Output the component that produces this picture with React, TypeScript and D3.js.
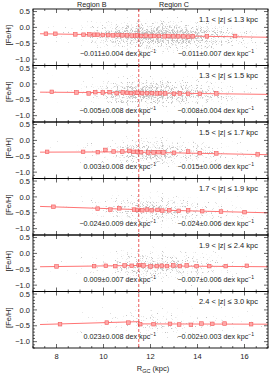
import * as d3 from 'd3'

const rangeLabels = ['1.1 < |z| ≤ 1.3 kpc', '1.3 < |z| ≤ 1.5 kpc', '1.5 < |z| ≤ 1.7 kpc', '1.7 < |z| ≤ 1.9 kpc', '1.9 < |z| ≤ 2.4 kpc', '2.4 < |z| ≤ 3.0 kpc']
const slopeB = ['−0.011±0.004', '−0.005±0.008', '0.003±0.008', '−0.024±0.009', '0.009±0.007', '0.023±0.008']
const slopeC = ['−0.011±0.007', '−0.008±0.004', '−0.015±0.006', '−0.024±0.006', '−0.007±0.006', '−0.002±0.003']

// fit lines: [feh at R=7.3, feh at 11.5] for region B, [feh at 11.5, feh at 17] for region C
const fitB = [[-0.20, -0.25], [-0.26, -0.28], [-0.37, -0.36], [-0.30, -0.40], [-0.42, -0.38], [-0.46, -0.37]]
const fitC = [[-0.25, -0.31], [-0.28, -0.33], [-0.37, -0.45], [-0.40, -0.50], [-0.39, -0.42], [-0.44, -0.45]]

const binR = [
  [7.55, 7.95, 8.8, 9.15, 9.4, 9.6, 9.76, 9.97, 10.2, 10.4, 10.6, 10.8, 11.0, 11.2, 11.35, 11.45, 11.6, 11.8, 12.0, 12.16, 12.36, 12.6, 12.76, 12.97, 13.18, 13.4, 13.6, 13.8, 14.4, 15.6],
  [7.8, 8.85, 9.37, 9.65, 9.97, 10.26, 10.56, 10.82, 11.0, 11.17, 11.37, 11.45, 11.64, 11.85, 12.06, 12.27, 12.41, 12.62, 13.0, 13.25, 13.6, 14.1, 14.8],
  [7.6, 9.13, 9.76, 10.08, 10.43, 10.8, 11.1, 11.27, 11.43, 11.6, 11.9, 12.13, 12.34, 12.55, 13.0, 13.6, 14.1, 14.8, 16.56],
  [7.87, 9.75, 10.29, 10.67, 11.3, 11.45, 11.65, 11.85, 12.05, 12.3, 12.5, 12.8, 13.2, 13.6, 14.2, 15.0, 16.0],
  [8.0, 9.6, 10.1, 10.5, 10.9, 11.2, 11.5, 11.7, 12.0, 12.27, 12.48, 12.7, 12.97, 13.25, 13.54, 13.96, 14.5, 15.2, 16.1],
  [8.15, 10.14, 11.06, 11.56, 12.13, 12.83, 13.22, 13.72, 14.17, 14.63, 15.15, 16.28]
]
const binFeH = [
  [-0.20, -0.20, -0.22, -0.23, -0.22, -0.23, -0.23, -0.24, -0.24, -0.25, -0.24, -0.25, -0.25, -0.26, -0.26, -0.25, -0.27, -0.26, -0.27, -0.27, -0.27, -0.28, -0.27, -0.28, -0.28, -0.28, -0.29, -0.28, -0.28, -0.27],
  [-0.25, -0.27, -0.30, -0.26, -0.27, -0.26, -0.29, -0.27, -0.28, -0.29, -0.28, -0.28, -0.29, -0.29, -0.29, -0.30, -0.29, -0.30, -0.31, -0.30, -0.31, -0.31, -0.30],
  [-0.36, -0.36, -0.37, -0.30, -0.35, -0.35, -0.33, -0.36, -0.36, -0.37, -0.38, -0.38, -0.37, -0.38, -0.39, -0.35, -0.40, -0.41, -0.44],
  [-0.31, -0.37, -0.40, -0.36, -0.40, -0.41, -0.42, -0.40, -0.42, -0.41, -0.43, -0.42, -0.44, -0.42, -0.45, -0.46, -0.48],
  [-0.41, -0.40, -0.39, -0.40, -0.38, -0.39, -0.37, -0.38, -0.41, -0.40, -0.39, -0.40, -0.38, -0.40, -0.38, -0.40, -0.40, -0.40, -0.39],
  [-0.45, -0.40, -0.40, -0.45, -0.45, -0.44, -0.46, -0.47, -0.43, -0.44, -0.43, -0.45]
]
const binErr = [0.02, 0.025, 0.03, 0.035, 0.03, 0.04]

// star density (relative) in 0.5 kpc bins from 7 to 17 kpc, and spread in dex
const densR = [7, 7.5, 8, 8.5, 9, 9.5, 10, 10.5, 11, 11.5, 12, 12.5, 13, 13.5, 14, 14.5, 15, 15.5, 16, 16.5]
const density = [
  [0.15, 0.3, 0.35, 0.4, 0.5, 0.65, 0.8, 0.9, 0.95, 1, 1, 1, 0.95, 0.9, 0.85, 0.8, 0.7, 0.6, 0.5, 0.4],
  [0.15, 0.3, 0.35, 0.4, 0.5, 0.6, 0.75, 0.85, 0.9, 0.95, 0.95, 0.9, 0.85, 0.8, 0.75, 0.7, 0.6, 0.5, 0.4, 0.3],
  [0.1, 0.25, 0.3, 0.35, 0.4, 0.5, 0.6, 0.7, 0.8, 0.85, 0.85, 0.8, 0.75, 0.7, 0.65, 0.6, 0.5, 0.45, 0.4, 0.3],
  [0.1, 0.25, 0.3, 0.35, 0.4, 0.45, 0.55, 0.65, 0.75, 0.8, 0.8, 0.75, 0.7, 0.65, 0.6, 0.55, 0.5, 0.45, 0.35, 0.3],
  [0.1, 0.25, 0.3, 0.35, 0.4, 0.45, 0.55, 0.65, 0.75, 0.8, 0.8, 0.75, 0.7, 0.65, 0.6, 0.55, 0.5, 0.45, 0.35, 0.3],
  [0.05, 0.15, 0.2, 0.25, 0.3, 0.35, 0.45, 0.5, 0.55, 0.6, 0.6, 0.55, 0.5, 0.5, 0.45, 0.4, 0.4, 0.35, 0.3, 0.25]
]
const spread = [0.36, 0.36, 0.36, 0.38, 0.38, 0.4]

const xTicks = [8, 10, 12, 14, 16]
const yTicks = [0.5, 0.0, -0.5, -1.0]
const splitR = 11.5

const W = 277
const H = 378
const left = 33
const right = 268
const top = 9
const panelH = 56.5
const font = '"Liberation Sans", Arial, sans-serif'
const red = '#ff7474'

const fmtY = (v: number) => (v < 0 ? '−' : '') + Math.abs(v).toFixed(1)

export default function App() {
  const x = d3.scaleLinear().domain([7, 17]).range([left, right])
  const xMinor = d3.range(7, 17.01, 0.5)
  const yMinor = d3.range(-1.2, 0.55, 0.1)
  const bottom = top + panelH * 6

  return (
    <svg width={W} height={H} style={{ position: 'absolute', left: 0, top: 0 }} fontFamily={font}>
      <defs>
        <linearGradient id="band" x1="0" x2="0" y1="0" y2="1">
          <stop offset="0" stopColor="#000" stopOpacity={0} />
          <stop offset="0.2" stopColor="#000" stopOpacity={0.55} />
          <stop offset="0.45" stopColor="#000" stopOpacity={1} />
          <stop offset="0.55" stopColor="#000" stopOpacity={1} />
          <stop offset="0.8" stopColor="#000" stopOpacity={0.55} />
          <stop offset="1" stopColor="#000" stopOpacity={0} />
        </linearGradient>
        {/* speckle texture: turbulence noise thresholded against the density field */}
        <filter id="specks" filterUnits="userSpaceOnUse" x={0} y={0} width={W} height={H} colorInterpolationFilters="sRGB">
          <feTurbulence type="turbulence" baseFrequency="0.8" numOctaves={2} seed={7} result="noise" />
          <feColorMatrix in="noise" type="matrix" values="0 0 0 0 0  0 0 0 0 0  0 0 0 0 0  1 0 0 0 0" result="na" />
          <feComposite in="na" in2="SourceGraphic" operator="arithmetic" k1={0} k2={1} k3={0.7} k4={0} result="sum" />
          <feColorMatrix in="sum" type="matrix" values="0 0 0 0 0.66  0 0 0 0 0.66  0 0 0 0 0.66  0 0 0 3.5 -2.8" />
        </filter>
      </defs>
      {rangeLabels.map((lab, i) => {
        const py = top + panelH * i
        const y = d3.scaleLinear().domain([-1.2, 0.58]).range([py + panelH, py])
        const line = d3.line<number[]>().x(d => x(d[0])).y(d => y(d[1]))
        const bLine = [[7.3, fitB[i][0]], [splitR, fitB[i][1]]]
        const cLine = [[splitR, fitC[i][0]], [17, fitC[i][1]]]
        const center = (r: number) => (r < splitR
          ? fitB[i][0] + (fitB[i][1] - fitB[i][0]) * (r - 7.3) / (splitR - 7.3)
          : fitC[i][0] + (fitC[i][1] - fitC[i][0]) * (r - splitR) / (17 - splitR))
        return (
          <g key={i}>
            <clipPath id={`clip${i}`}>
              <rect x={left} y={py} width={right - left} height={panelH} />
            </clipPath>
            <g clipPath={`url(#clip${i})`}>
              <g filter="url(#specks)">
                {densR.map((r, j) => {
                  const c = center(r + 0.25)
                  return (
                    <rect key={j} x={x(r)} width={x(r + 0.5) - x(r) + 0.5}
                      y={y(c + spread[i] * 2)} height={y(c - spread[i] * 2) - y(c + spread[i] * 2)}
                      fill="url(#band)" fillOpacity={density[i][j]} />
                  )
                })}
              </g>
              <path d={line(bLine) ?? ''} stroke={red} strokeWidth={1} fill="none" />
              <path d={line(cLine) ?? ''} stroke={red} strokeWidth={1} fill="none" />
              {binR[i].map((r, j) => (
                <g key={j}>
                  <line x1={x(r)} x2={x(r)} y1={y(binFeH[i][j] + binErr[i])} y2={y(binFeH[i][j] - binErr[i])} stroke="#f25a5a" strokeWidth={0.7} />
                  <rect x={x(r) - 1.8} y={y(binFeH[i][j]) - 1.8} width={3.6} height={3.6} fill="#ffa8a8" stroke="#f25a5a" strokeWidth={0.6} />
                </g>
              ))}
            </g>
            {/* axes */}
            <rect x={left} y={py} width={right - left} height={panelH} fill="none" stroke="#000" strokeWidth={0.9} />
            {yMinor.map((v, k) => {
              const major = yTicks.some(t => Math.abs(t - v) < 1e-6)
              const len = major ? 4 : 2
              return (
                <g key={k}>
                  <line x1={left} x2={left + len} y1={y(v)} y2={y(v)} stroke="#000" strokeWidth={0.6} />
                  <line x1={right} x2={right - len} y1={y(v)} y2={y(v)} stroke="#000" strokeWidth={0.6} />
                </g>
              )
            })}
            {xMinor.map((v, k) => {
              const major = xTicks.includes(v)
              const len = major ? 4 : 2
              return (
                <g key={k}>
                  <line x1={x(v)} x2={x(v)} y1={py} y2={py + len} stroke="#000" strokeWidth={0.6} />
                  <line x1={x(v)} x2={x(v)} y1={py + panelH} y2={py + panelH - len} stroke="#000" strokeWidth={0.6} />
                </g>
              )
            })}
            {yTicks.map(t => (
              <text key={t} x={30} y={y(t)} dy="0.35em" textAnchor="end" fontSize={7.5} fill="#222">{fmtY(t)}</text>
            ))}
            <text transform={`translate(11,${py + panelH / 2 - 2}) rotate(-90)`} textAnchor="middle" fontSize={7.5} fill="#222">[Fe/H]</text>
            <text x={258} y={py + 12.5} textAnchor="end" fontSize={7.5} fill="#222">{lab}</text>
            <text x={156} y={py + 47} textAnchor="end" fontSize={7.2} fill="#222">
              {slopeB[i]} dex kpc<tspan dy={-3} fontSize={5}>−1</tspan>
            </text>
            <text x={254} y={py + 47} textAnchor="end" fontSize={7.2} fill="#222">
              {slopeC[i]} dex kpc<tspan dy={-3} fontSize={5}>−1</tspan>
            </text>
          </g>
        )
      })}
      <line x1={x(splitR)} x2={x(splitR)} y1={top} y2={bottom} stroke="#e83030" strokeWidth={0.8} strokeDasharray="3,2" />
      <text x={x(9.5)} y={7} textAnchor="middle" fontSize={7.2} fill="#222">Region B</text>
      <text x={x(13)} y={7} textAnchor="middle" fontSize={7.2} fill="#222">Region C</text>
      {xTicks.map(t => (
        <text key={t} x={x(t)} y={359} textAnchor="middle" fontSize={7.5} fill="#222">{t}</text>
      ))}
      <text x={153} y={371} textAnchor="middle" fontSize={7.5} fill="#222">
        R<tspan dy={2} fontSize={5.5}>GC</tspan><tspan dy={-2}> (kpc)</tspan>
      </text>
    </svg>
  )
}
